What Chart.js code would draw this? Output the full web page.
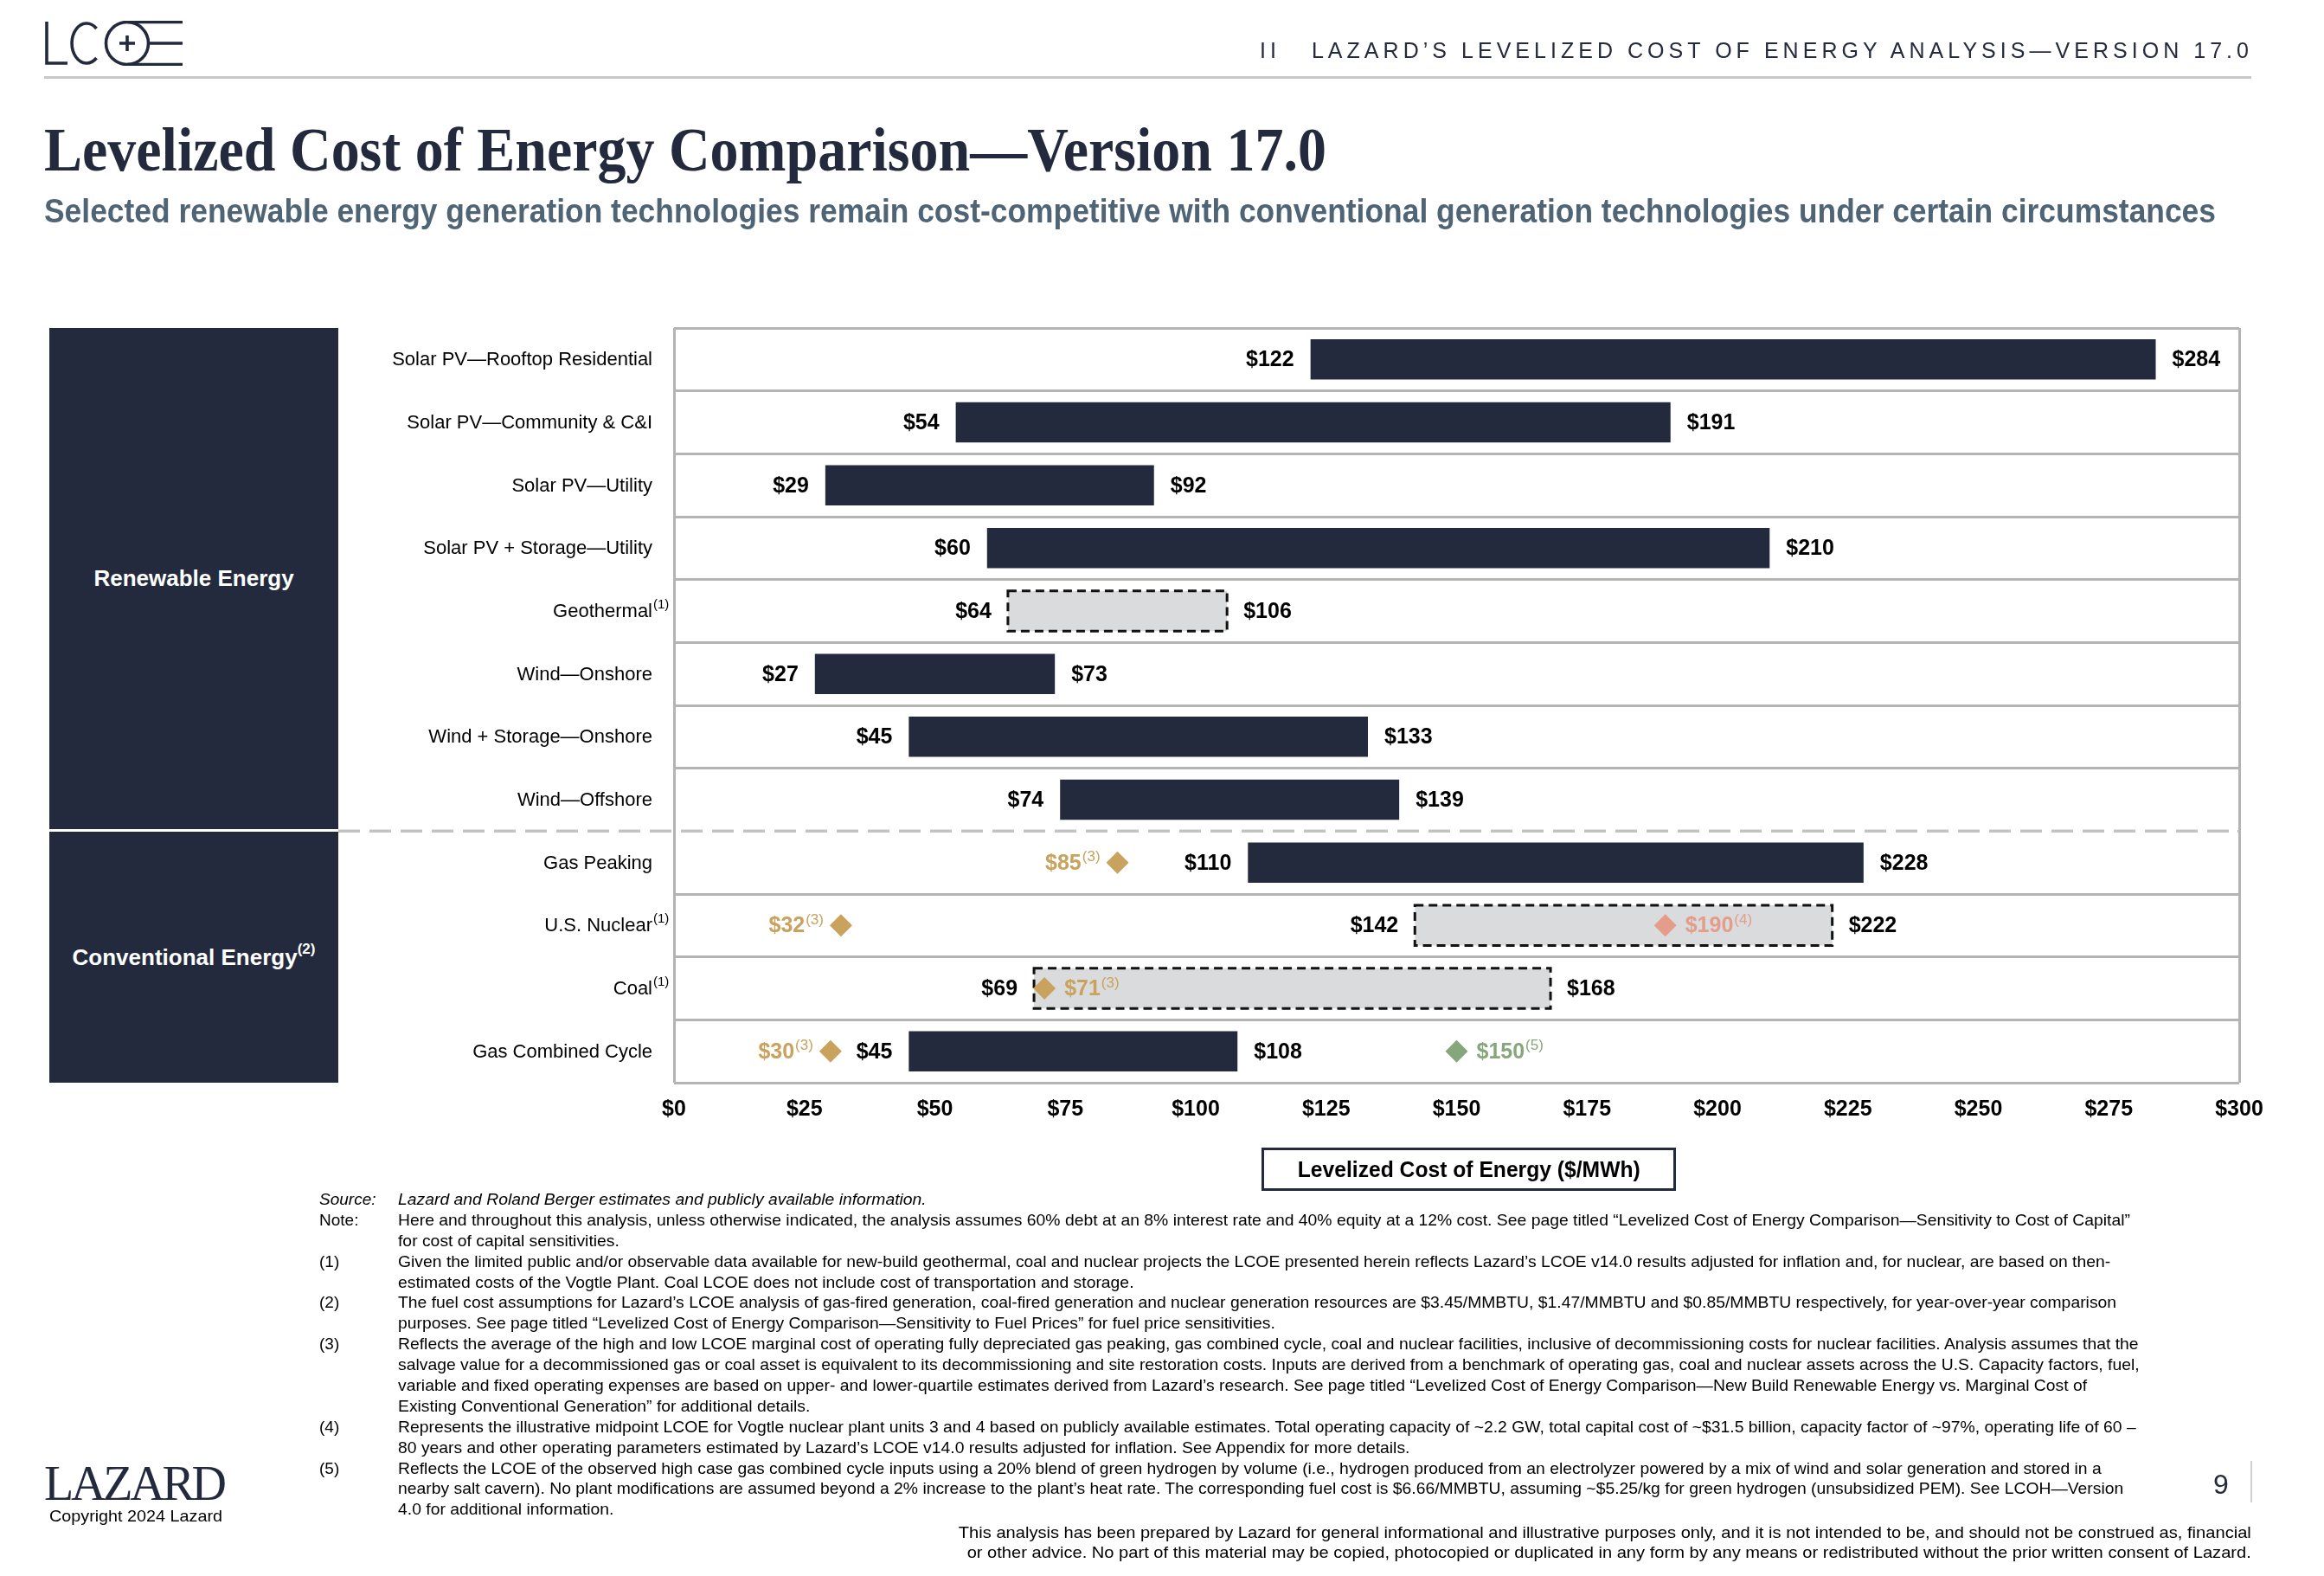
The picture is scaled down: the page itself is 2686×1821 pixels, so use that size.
<!DOCTYPE html>
<html>
<head>
<meta charset="utf-8">
<title>Levelized Cost of Energy Comparison</title>
<script src="https://cdn.jsdelivr.net/npm/chart.js@4.4.1/dist/chart.umd.min.js"></script>
<style>
  body { margin: 0; width: 2686px; height: 1821px; position: relative; overflow: hidden; background: #fff;
         font-family: "Liberation Sans", Arial, sans-serif; color: #000; }
  .abs { position: absolute; white-space: nowrap; line-height: 1; }
  #lcoe { position: absolute; left: 0; top: 0; }
  .box { position: absolute; left: 57px; width: 334px; background: #232a3d; color: #fff; font-weight: bold;
         font-size: 26px; display: flex; align-items: center; justify-content: center; }
  .box sup { font-size: 17px; position: relative; top: -3px; }
  #notes { position: absolute; left: 369px; top: 1374px; font-size: 19px; }
  #notes .row { position: relative; height: 23.9px; line-height: 23.9px; white-space: nowrap; }
  #notes .lab { position: absolute; left: 0; }
  #notes .txt { position: absolute; left: 91px; transform-origin: left center; }
  #notes .it { font-style: italic; }
</style>
</head>
<body>
<canvas id="lcoe" width="2686" height="1821"></canvas>

<!-- LCOE logo -->
<svg class="abs" style="left:51px;top:24px" width="162" height="52" viewBox="0 0 162 52" fill="none" stroke="#232a3d" stroke-width="3.6">
  <path d="M3 1 V49 H27"/>
  <path d="M60.5 9 A17 23 0 1 0 60.5 43"/>
  <circle cx="96" cy="26" r="24.5"/>
  <path d="M96 17 V35 M87 26 H105"/>
  <path d="M96 1.5 H160 M120.5 26 H160 M96 50.5 H160"/>
</svg>
<div class="abs" style="left:51px;top:88px;width:2551px;height:3px;background:#c8c8c8"></div>
<span class="abs" id="header" style="left:1456px;top:46px;font-size:25px;color:#232a3d">II&nbsp;&nbsp;&nbsp;LAZARD’S LEVELIZED COST OF ENERGY ANALYSIS—VERSION 17.0</span>

<span class="abs" id="title" style="left:51px;top:137px;font-family:'Liberation Serif',serif;font-weight:bold;font-size:72px;color:#232a3d">Levelized Cost of Energy Comparison—Version 17.0</span>
<span class="abs" id="subtitle" style="left:51px;top:224px;font-weight:bold;font-size:39px;color:#4f6475">Selected renewable energy generation technologies remain cost-competitive with conventional generation technologies under certain circumstances</span>

<div class="box" style="top:379px;height:579px">Renewable Energy</div>
<div class="box" style="top:961px;height:290px"><span>Conventional Energy<sup>(2)</sup></span></div>

<div class="abs" style="left:1458px;top:1326px;width:479px;height:50px;box-sizing:border-box;border:3px solid #232a3d;display:flex;align-items:center;justify-content:center">
  <span id="axisTitle" style="font-weight:bold;font-size:25px;display:inline-block">Levelized Cost of Energy ($/MWh)</span>
</div>

<div id="notes">
  <div class="row it"><span class="lab">Source:</span><span class="txt">Lazard and Roland Berger estimates and publicly available information.</span></div>
  <div class="row"><span class="lab">Note:</span><span class="txt" id="refLine">Here and throughout this analysis, unless otherwise indicated, the analysis assumes 60% debt at an 8% interest rate and 40% equity at a 12% cost. See page titled “Levelized Cost of Energy Comparison—Sensitivity to Cost of Capital”</span></div>
  <div class="row"><span class="txt">for cost of capital sensitivities.</span></div>
  <div class="row"><span class="lab">(1)</span><span class="txt">Given the limited public and/or observable data available for new-build geothermal, coal and nuclear projects the LCOE presented herein reflects Lazard’s LCOE v14.0 results adjusted for inflation and, for nuclear, are based on then-</span></div>
  <div class="row"><span class="txt">estimated costs of the Vogtle Plant. Coal LCOE does not include cost of transportation and storage.</span></div>
  <div class="row"><span class="lab">(2)</span><span class="txt">The fuel cost assumptions for Lazard’s LCOE analysis of gas-fired generation, coal-fired generation and nuclear generation resources are $3.45/MMBTU, $1.47/MMBTU and $0.85/MMBTU respectively, for year-over-year comparison</span></div>
  <div class="row"><span class="txt">purposes. See page titled “Levelized Cost of Energy Comparison—Sensitivity to Fuel Prices” for fuel price sensitivities.</span></div>
  <div class="row"><span class="lab">(3)</span><span class="txt">Reflects the average of the high and low LCOE marginal cost of operating fully depreciated gas peaking, gas combined cycle, coal and nuclear facilities, inclusive of decommissioning costs for nuclear facilities. Analysis assumes that the</span></div>
  <div class="row"><span class="txt">salvage value for a decommissioned gas or coal asset is equivalent to its decommissioning and site restoration costs. Inputs are derived from a benchmark of operating gas, coal and nuclear assets across the U.S. Capacity factors, fuel,</span></div>
  <div class="row"><span class="txt">variable and fixed operating expenses are based on upper- and lower-quartile estimates derived from Lazard’s research. See page titled “Levelized Cost of Energy Comparison—New Build Renewable Energy vs. Marginal Cost of</span></div>
  <div class="row"><span class="txt">Existing Conventional Generation” for additional details.</span></div>
  <div class="row"><span class="lab">(4)</span><span class="txt">Represents the illustrative midpoint LCOE for Vogtle nuclear plant units 3 and 4 based on publicly available estimates. Total operating capacity of ~2.2 GW, total capital cost of ~$31.5 billion, capacity factor of ~97%, operating life of 60 –</span></div>
  <div class="row"><span class="txt">80 years and other operating parameters estimated by Lazard’s LCOE v14.0 results adjusted for inflation. See Appendix for more details.</span></div>
  <div class="row"><span class="lab">(5)</span><span class="txt">Reflects the LCOE of the observed high case gas combined cycle inputs using a 20% blend of green hydrogen by volume (i.e., hydrogen produced from an electrolyzer powered by a mix of wind and solar generation and stored in a</span></div>
  <div class="row"><span class="txt">nearby salt cavern). No plant modifications are assumed beyond a 2% increase to the plant’s heat rate. The corresponding fuel cost is $6.66/MMBTU, assuming ~$5.25/kg for green hydrogen (unsubsidized PEM). See LCOH—Version</span></div>
  <div class="row"><span class="txt">4.0 for additional information.</span></div>
</div>

<span class="abs" id="lazard" style="left:51px;top:1686px;font-family:'Liberation Serif',serif;font-size:56px;color:#232a3d">LAZARD</span>
<span class="abs" id="copyright" style="left:57px;top:1742px;font-size:19px">Copyright 2024 Lazard</span>
<span class="abs" style="left:2558px;top:1699px;font-size:32px;color:#232a3d">9</span>
<div class="abs" style="left:2601px;top:1688px;width:2px;height:48px;background:#d0d0d0"></div>
<div class="abs" id="disclaimer" style="right:84px;top:1760px;font-size:19px;text-align:right;line-height:22.5px;transform-origin:right top">
  This analysis has been prepared by Lazard for general informational and illustrative purposes only, and it is not intended to be, and should not be construed as, financial<br>
  or other advice. No part of this material may be copied, photocopied or duplicated in any form by any means or redistributed without the prior written consent of Lazard.
</div>

<script>
// rows, top to bottom
var technologies = ["Solar PV—Rooftop Residential", "Solar PV—Community & C&I", "Solar PV—Utility",
  "Solar PV + Storage—Utility", "Geothermal", "Wind—Onshore", "Wind + Storage—Onshore", "Wind—Offshore",
  "Gas Peaking", "U.S. Nuclear", "Coal", "Gas Combined Cycle"];
var techNotes = ["", "", "", "", "(1)", "", "", "", "", "(1)", "(1)", ""];
var lowCost  = [122, 54, 29, 60, 64, 27, 45, 74, 110, 142, 69, 45];
var highCost = [284, 191, 92, 210, 106, 73, 133, 139, 228, 222, 168, 108];
var estimated = [false, false, false, false, true, false, false, false, false, true, true, false];

// diamonds
var markerTech  = ["Gas Peaking", "U.S. Nuclear", "Coal", "Gas Combined Cycle", "U.S. Nuclear", "Gas Combined Cycle"];
var markerCost  = [85, 32, 71, 30, 190, 150];
var markerNote  = ["(3)", "(3)", "(3)", "(3)", "(4)", "(5)"];
var markerSide  = ["left", "left", "right", "left", "right", "right"];
var markerColor = ["#c9a25e", "#c9a25e", "#c9a25e", "#c9a25e", "#e39d8a", "#86a67b"];

var xMin = 0, xMax = 300, xStep = 25;
var lastRenewable = 7;

var navy = "#232a3d";
var rowLine = "#b4b4b4";
var fam = "'Liberation Sans', Arial, sans-serif";

function textWithSup(ctx, x, y, main, sup, align, mainFont, supFont, color, supRise) {
  ctx.font = mainFont;
  var w1 = ctx.measureText(main).width;
  ctx.font = supFont;
  var w2 = ctx.measureText(sup).width;
  var start = align === "right" ? x - w1 - w2 - 1 : x;
  ctx.fillStyle = color;
  ctx.textAlign = "left";
  ctx.textBaseline = "middle";
  ctx.font = mainFont;
  ctx.fillText(main, start, y);
  ctx.font = supFont;
  ctx.fillText(sup, start + w1 + 1, y - supRise);
}

var lcoePlugin = {
  id: "lcoeLabels",
  afterDatasetDraw: function (chart, args) {
    if (args.index !== 0) return;
    var ctx = chart.ctx;
    ctx.save();
    ctx.setLineDash([10, 6]);
    ctx.lineWidth = 3;
    ctx.strokeStyle = "#111";
    chart.getDatasetMeta(0).data.forEach(function (bar, i) {
      if (!estimated[i]) return;
      var p = bar.getProps(["x", "base", "y", "height"], true);
      ctx.strokeRect(Math.min(p.x, p.base), p.y - p.height / 2, Math.abs(p.x - p.base), p.height);
    });
    ctx.restore();
  },
  afterDatasetsDraw: function (chart) {
    var ctx = chart.ctx;
    ctx.save();
    ctx.font = "bold 25px " + fam;
    ctx.fillStyle = "#000";
    ctx.textBaseline = "middle";
    chart.getDatasetMeta(0).data.forEach(function (bar, i) {
      var p = bar.getProps(["x", "base", "y"], true);
      ctx.textAlign = "right";
      ctx.fillText("$" + lowCost[i], p.base - 19, p.y + 1);
      ctx.textAlign = "left";
      ctx.fillText("$" + highCost[i], p.x + 19, p.y + 1);
    });
    chart.getDatasetMeta(1).data.forEach(function (pt, i) {
      var p = pt.getProps(["x", "y"], true);
      var r = 13;
      var x = markerSide[i] === "left" ? p.x - r - 7 : p.x + r + 10;
      textWithSup(ctx, x, p.y + 1, "$" + markerCost[i], markerNote[i], markerSide[i] === "left" ? "right" : "left",
        "bold 25px " + fam, "17px " + fam, markerColor[i], 7);
    });
    ctx.restore();
  },
  afterDraw: function (chart) {
    var ctx = chart.ctx;
    var ys = chart.scales.y;
    var area = chart.chartArea;
    ctx.save();
    // category names
    technologies.forEach(function (t, i) {
      var y = ys.getPixelForValue(i);
      ctx.font = "22px " + fam;
      ctx.fillStyle = "#000";
      ctx.textAlign = "right";
      ctx.textBaseline = "middle";
      ctx.fillText(t, area.left - 25, y + 1);
      if (techNotes[i]) {
        ctx.font = "15px " + fam;
        ctx.textAlign = "left";
        ctx.fillText(techNotes[i], area.left - 24, y - 7);
      }
    });
    // renewable / conventional divider
    var yd = (ys.getPixelForValue(lastRenewable) + ys.getPixelForValue(lastRenewable + 1)) / 2;
    ctx.strokeStyle = "#fff";
    ctx.lineWidth = 4;
    ctx.beginPath();
    ctx.moveTo(area.left + 2, yd);
    ctx.lineTo(area.right - 2, yd);
    ctx.stroke();
    ctx.strokeStyle = "#c3c3c3";
    ctx.lineWidth = 3.5;
    ctx.setLineDash([25, 11]);
    ctx.beginPath();
    ctx.moveTo(391, yd);
    ctx.lineTo(area.right, yd);
    ctx.stroke();
    ctx.restore();
  }
};

Chart.defaults.font.family = fam;

var lcoeChart = new Chart(document.getElementById("lcoe"), {
  type: "bar",
  data: {
    labels: technologies,
    datasets: [{
      type: "bar",
      data: technologies.map(function (t, i) { return [lowCost[i], highCost[i]]; }),
      backgroundColor: estimated.map(function (e) { return e ? "#d9dbdc" : navy; }),
      borderWidth: 0,
      barPercentage: 0.64,
      categoryPercentage: 1,
      order: 1
    }, {
      type: "scatter",
      data: markerTech.map(function (t, i) { return { x: markerCost[i], y: t }; }),
      pointStyle: "rectRot",
      pointRadius: 13,
      pointHoverRadius: 13,
      pointBackgroundColor: markerColor,
      pointBorderWidth: 0,
      order: 0
    }]
  },
  options: {
    indexAxis: "y",
    responsive: false,
    animation: false,
    devicePixelRatio: 1,
    events: [],
    layout: { padding: { left: 769, top: 379, right: 98, bottom: 510 } },
    plugins: { legend: { display: false }, tooltip: { enabled: false } },
    scales: {
      x: {
        type: "linear",
        min: xMin,
        max: xMax,
        ticks: {
          stepSize: xStep,
          autoSkip: false,
          maxRotation: 0,
          padding: 16,
          color: "#000",
          font: { size: 25, weight: "bold" },
          callback: function (v) { return "$" + v; }
        },
        grid: {
          drawTicks: false,
          lineWidth: 3,
          color: function (c) {
            return c.tick && (c.tick.value === xMin || c.tick.value === xMax) ? rowLine : "rgba(0,0,0,0)";
          }
        },
        border: { display: false },
        afterFit: function (s) { s.height = 60; }
      },
      y: {
        type: "category",
        offset: true,
        ticks: { display: false },
        grid: { offset: true, drawTicks: false, color: rowLine, lineWidth: 3 },
        border: { display: false },
        afterFit: function (s) { s.width = 10; }
      }
    }
  },
  plugins: [lcoePlugin]
});

// fit text blocks to the measured widths of the original page
function fitWidth(el, target, origin) {
  el.style.transform = "none";
  var w = el.getBoundingClientRect().width;
  el.style.transformOrigin = origin || "left center";
  el.style.transform = "scaleX(" + (target / w) + ")";
  return target / w;
}
function spreadWidth(el, target) {
  el.style.letterSpacing = "0px";
  var w = el.getBoundingClientRect().width;
  var n = el.textContent.length;
  el.style.letterSpacing = ((target - w) / (n - 1)) + "px";
}
fitWidth(document.getElementById("title"), 1482);
fitWidth(document.getElementById("subtitle"), 2510);
spreadWidth(document.getElementById("header"), 1143);
fitWidth(document.getElementById("axisTitle"), 396, "center center");
fitWidth(document.getElementById("copyright"), 200);
spreadWidth(document.getElementById("lazard"), 211);
var ref = document.getElementById("refLine");
ref.style.transform = "none";
var k = 2002 / ref.getBoundingClientRect().width;
document.querySelectorAll("#notes .txt").forEach(function (el) {
  el.style.transform = "scaleX(" + k + ")";
});
var disc = document.getElementById("disclaimer");
var dw = disc.getBoundingClientRect().width;
disc.style.transform = "scaleX(" + (1494 / dw) + ")";
</script>
</body>
</html>
